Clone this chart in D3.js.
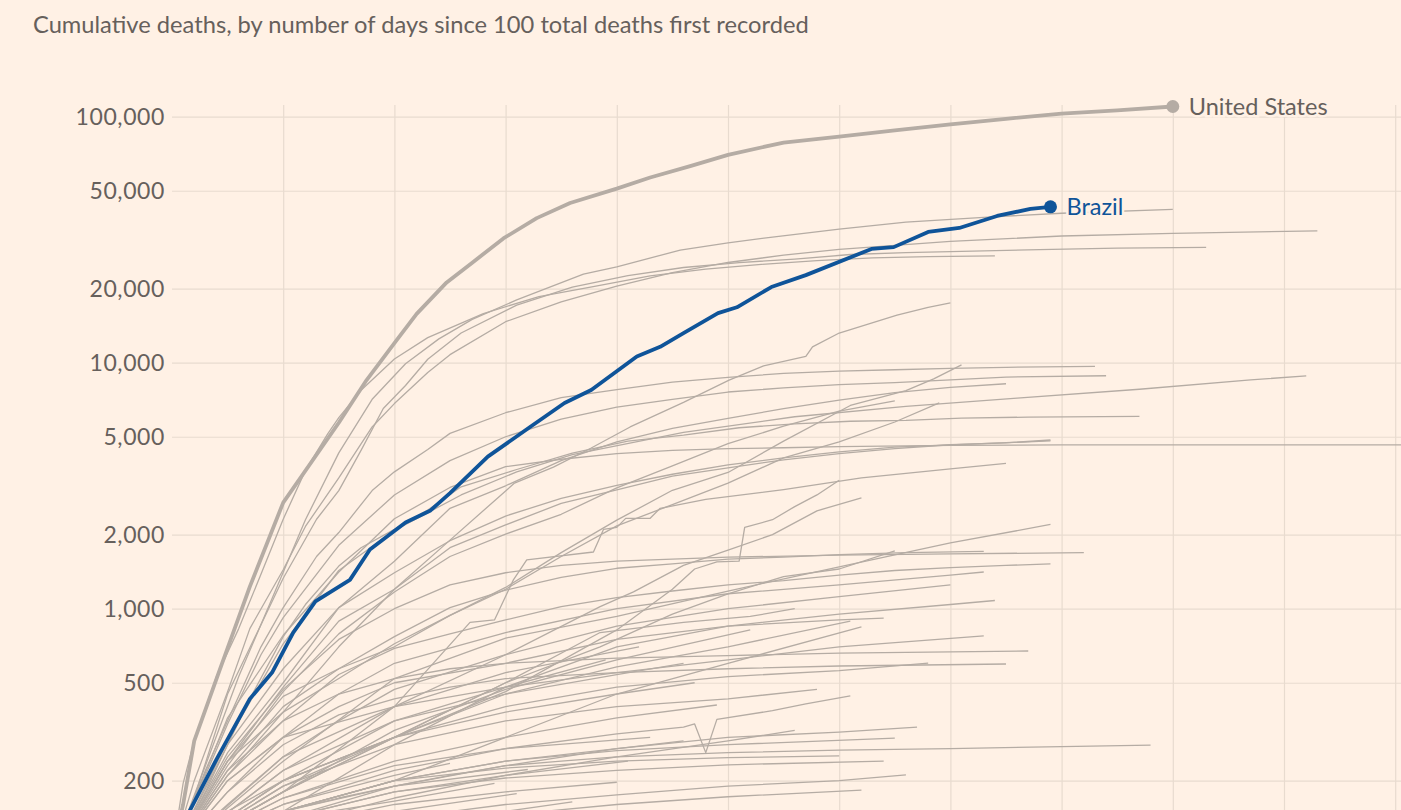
<!DOCTYPE html>
<html><head><meta charset="utf-8">
<script src="https://cdn.jsdelivr.net/npm/d3@7"></script>
<style>
html,body{margin:0;padding:0;background:#fff1e5;overflow:hidden;}
svg{display:block;font-family:Lato,"Noto Sans",sans-serif;}
</style></head><body>
<svg id="chart" width="1401" height="810"></svg>
<script>
const chartTitle = "Cumulative deaths, by number of days since 100 total deaths first recorded";
const yTickValues = [200, 500, 1000, 2000, 5000, 10000, 20000, 50000, 100000];
const xTickDays = [10, 20, 30, 40, 50, 60, 70, 80, 90, 100, 110];

const usDays   = [0, 1, 2, 4.3, 7, 10, 15, 17.5, 20, 22, 24.7, 27, 29.8, 32.8, 35.8, 40, 43, 46.6, 50, 55, 60, 65, 70, 75, 80, 85, 90];
const usDeaths = [100, 160, 290, 565, 1230, 2700, 5700, 8500, 12000, 15800, 21200, 25500, 32000, 38700, 44600, 51000, 56600, 63000, 70000, 78500, 83000, 88000, 93000, 98000, 103000, 106000, 110000];

const brazilDays   = [0, 1.6, 4, 7, 9, 10.9, 12.9, 16, 17.8, 21, 23.2, 25, 28.4, 32.2, 35.3, 37.7, 41.8, 43.9, 46, 49.1, 50.8, 53.9, 57, 62.9, 64.9, 68, 70.8, 74.2, 77.2, 79];
const brazilDeaths = [100, 151, 244, 430, 550, 800, 1070, 1310, 1740, 2240, 2500, 2950, 4150, 5480, 6860, 7750, 10600, 11600, 13200, 15900, 16800, 20300, 22700, 29000, 29500, 34000, 35300, 39500, 42200, 43000];

// other countries: [day, cumulative deaths]
const otherSeries = [
  [[0,100],[3,230],[6,530],[9,1100],[12,2300],[15,4300],[18,7100],[21,9900],[24,12500],[27,15000],[31,18000],[37,22900],[40,24500],[45.7,28700],[50,30700],[54,32400],[60,34900],[66,37300],[73,39000],[80,40500],[90,42000]],
  [[0,100],[2,200],[5,460],[7,830],[10,1440],[12,2160],[15,3400],[18,5480],[20,6820],[23,9130],[25,10780],[30,14680],[35,17670],[40,20470],[45,23230],[50,25550],[55,27360],[60,28880],[70,31110],[80,32740],[90,33530],[103,34370]],
  [[0,100],[2,170],[5,450],[8,860],[10,1330],[13,2310],[15,3020],[17,4400],[19,6510],[21,8080],[23,10330],[26,13200],[31,17150],[36,20270],[41,22610],[46,24380],[51,25530],[56,26380],[61,27530],[66,28020],[71,28370],[78,28810],[85,29210],[93,29440]],
  [[0,100],[1,195],[2,290],[4,530],[6,830],[8,1380],[10,2310],[12,3650],[14,5140],[15,5980],[17,7720],[20,10350],[23,12640],[28,15840],[33,18580],[38,20450],[43,22520],[48,24000],[53,25100],[58,26000],[63,26700],[68,27000],[74,27200]],
  [[0,100],[3,220],[5,350],[8,700],[10,1010],[13,1630],[15,2040],[18,3020],[20,3600],[23,4440],[25,5160],[30,6260],[35,7210],[40,7770],[45,8340],[50,8710],[55,9050],[60,9240],[65,9360],[70,9490],[75,9580],[83,9660]],
  [[0,100],[3,210],[5,340],[8,650],[10,920],[15,1810],[20,2900],[25,4000],[30,5000],[35,5900],[40,6600],[45,7100],[50,7600],[55,7900],[60,8150],[65,8300],[70,8520],[75,8740],[84,8850]],
  [[0,100],[3,180],[5,280],[7,430],[10,770],[12,1040],[15,1490],[17,1770],[20,2100],[23,2520],[26,3130],[31,3680],[36,4290],[41,4800],[46,5080],[51,5440],[56,5640],[61,5780],[66,5830],[71,5950],[77,6010],[87,6050]],
  [[0,100],[5,290],[10,720],[15,1430],[20,2080],[26,2900],[31,3600],[36,4230],[46,5210],[56,6030],[66,6640],[76,7180],[87,7800],[97,8510],[102,8840]],
  [[0,100],[5,260],[10,500],[15,1010],[20,1560],[25,2560],[30,3160],[35,4000],[40,4770],[45,5410],[50,5940],[55,6500],[60,7050],[65,7550],[70,7940],[75,8210]],
  [[0,100],[5,240],[10,380],[15,520],[20,720],[25,940],[30,1220],[35,1690],[40,2290],[45,3030],[50,3580],[55,4800],[61,6700],[66,7700],[68.5,8600],[71,9800]],
  [[0,100],[5,230],[10,460],[15,790],[20,1170],[25,1630],[30,2010],[35,2420],[40,3100],[45,3810],[50,4690],[55,5520],[60,6360],[65,7000]],
  [[0,100],[5,220],[10,400],[15,570],[20,700],[25,940],[30,1200],[35,1630],[40,2170],[45,2650],[50,3240],[55,4100],[60,4770],[65,5740],[69,6860]],
  [[0,100],[5,210],[10,380],[15,700],[20,1200],[25,1900],[30.8,3240],[34.3,3760],[37.7,4500],[41.2,5480],[46,6900],[50.1,8500],[53.2,9700],[57,10600],[57.6,11600],[60,13200],[65.2,15600],[68,16800],[70,17500]],
  [[0,100],[5,240],[10,480],[15,890],[20,1200],[25,1770],[30,2190],[35,2680],[40,3040],[45,3460],[50,3740],[55,4030],[60,4270],[65,4470],[70,4640],[75,4720],[79,4850]],
  [[0,100],[5,280],[10,570],[15,1010],[20,1400],[25,1890],[30,2380],[35,2810],[40,3170],[45,3520],[50,3840],[55,4100],[60,4340],[65,4540],[70,4630],[75,4730],[79,4810]],
  [[0,100],[5,360],[10,780],[15,1410],[20,2320],[25,3110],[30,3780],[35,4050],[40,4270],[45,4400],[50,4470],[55,4510],[60,4560],[70,4610],[80,4630],[100,4634],[139,4634]],
  [[0,100],[10,180],[20,400],[26.8,880],[29,900],[30.7,1310],[31.9,1580],[37.9,1700],[38.8,2100],[40,2140],[40.8,2330],[43,2330],[43.9,2560],[48,2780],[55,3050],[62,3400],[70,3700],[75,3900]],
  [[0,100],[10,200],[20,300],[30,460],[40,820],[45,1200],[47,1450],[49,1550],[51,1560],[51.5,2140],[54,2300],[56,2600],[58,2900],[60,3330]],
  [[0,100],[10,220],[20,400],[30,650],[38.5,1020],[41.5,1170],[46,1500],[50,1730],[54,2000],[58,2500],[62,2820]],
  [[0,100],[10,240],[20,520],[30,760],[40,930],[50,1180],[60,1480],[70,1850],[79,2200]],
  [[0,100],[5,240],[10,440],[15,570],[20,770],[25,1010],[30,1190],[35,1340],[40,1460],[45,1520],[50,1590],[55,1620],[60,1660],[66,1690],[73,1710]],
  [[0,100],[5,250],[10,470],[15,750],[20,1000],[25,1250],[30,1400],[35,1500],[40,1560],[50,1620],[60,1650],[70,1670],[82,1690]],
  [[0,100],[5,210],[10,350],[15,540],[20,690],[25,790],[30,900],[35,1020],[40,1110],[45,1180],[50,1250],[55,1300],[60,1370],[65,1430],[70,1470],[75,1500],[79,1520]],
  [[0,100],[5,180],[10,300],[15,450],[20,600],[30,800],[40,1000],[50,1150],[60,1250],[70,1370],[73,1410]],
  [[0,100],[5,160],[10,250],[15,350],[20,470],[30,650],[40,850],[50,1000],[60,1120],[70,1250]],
  [[0,100],[5,200],[10,300],[15,400],[20,500],[30,600],[40,750],[50,850],[60,950],[70,1040],[74,1080]],
  [[0,100],[5,220],[10,350],[15,450],[20,520],[25,570],[30,600],[40,630],[50,645],[60,660],[77,673]],
  [[0,100],[5,180],[10,280],[15,370],[20,430],[25,480],[30,520],[40,550],[50,570],[60,585],[75,596]],
  [[0,100],[10,150],[20,280],[30,480],[40,700],[50,850],[60,900],[64,916]],
  [[0,100],[5,200],[10,300],[20,400],[30,480],[40,550],[50,620],[60,700],[73,775]],
  [[0,100],[10,180],[20,300],[30,450],[40,580],[50,700],[61,891]],
  [[0,100],[10,150],[20,200],[30,300],[40,450],[50,600],[62,843]],
  [[0,100],[5,150],[10,200],[20,300],[30,400],[40,480],[50,530],[60,560],[68,601]],
  [[0,100],[10,160],[20,220],[30,270],[40,310],[46,330],[47,340],[48,260],[49,355],[54,385],[57,410],[61,442]],
  [[0,100],[10,170],[20,240],[30,300],[40,360],[49,406]],
  [[0,100],[10,140],[20,190],[30,230],[40,270],[50,300],[60,315],[67,330]],
  [[0,100],[10,150],[20,200],[30,240],[40,265],[50,280],[65,298]],
  [[0,100],[5,120],[10,150],[15,170],[20,190],[25,210],[30,230],[35,240],[40,250],[50,260],[60,266],[70,270],[80,275],[88,279]],
  [[0,100],[10,150],[20,200],[30,225],[40,240],[50,248],[60,252]],
  [[0,100],[10,140],[20,180],[30,205],[40,220],[50,232],[64,240]],
  [[0,100],[10,120],[20,140],[30,160],[40,175],[50,190],[60,200],[66,211]],
  [[0,100],[10,115],[20,130],[30,145],[40,160],[50,172],[62,183]],
  [[0,100],[10,190],[20,300],[30,500],[38.5,800],[46,880],[52,930],[56,1000]],
  [[0,100],[10,180],[20,320],[30,470],[40,620],[52,820]],
  [[0,100],[10,180],[20,300],[30,500],[38.5,700],[45,950],[50,1150],[55,1350],[60,1450],[65,1720]],
  [[0,100],[10,150],[20,200],[30,240],[40,270],[46,290]],
  [[0,100],[10,130],[20,150],[31,177]],
  [[0,100],[10,140],[20,165],[29,195]],
  [[0,100],[10,120],[20,140],[30,150],[36,164]],
  [[0,100],[10,160],[20,210],[25,235]],
  [[0,100],[10,150],[20,190],[32,222]],
  [[0,100],[10,130],[20,160],[30,180],[40,197]],
  [[0,100],[10,140],[20,180],[30,210],[41,240]],
  [[0,100],[10,170],[20,230],[30,270],[43,300]],
  [[0,100],[10,200],[20,300],[30,380],[40,450],[47,500]],
  [[0,100],[10,220],[20,350],[30,450],[40,540],[46,600]],
  [[0,100],[10,200],[20,350],[30,480],[39,620]],
  [[0,100],[10,250],[20,400],[30,550],[42,700]],
  [[0,100],[10,130],[20,170],[30,210],[40,250],[50,290],[56,320]],
  [[0,100],[10,190],[20,280],[30,350],[40,400],[50,430],[58,470]]
];

const svg = d3.select("#chart");
const W = 1401, H = 810;
const x = d3.scaleLinear().domain([0, 110]).range([172, 1395.2]);
const y = d3.scaleLog().domain([100, 100000]).range([854.7, 116.7]);

const textCol = "#66605c", gridCol = "#e8dbcf", lineCol = "#b5aca4", blue = "#0f5499", bg = "#fff1e5";

// title
const t = svg.append("text").attr("x", 33).attr("y", 33).attr("fill", textCol)
  .style("font-size", "20px").text(chartTitle);
const tl = t.node().getComputedTextLength();
t.style("font-size", (20 * 776 / tl).toFixed(2) + "px");

// vertical gridlines (x axis; its labels would sit below the visible area, so none are drawn)
const xAxis = svg.append("g").attr("transform", "translate(0,900)")
  .call(d3.axisBottom(x).tickValues(xTickDays).tickSize(-(900 - 105)));
xAxis.select(".domain").remove();
xAxis.selectAll("text").remove();
xAxis.selectAll("line").attr("stroke", gridCol).attr("stroke-width", 1.2);

// horizontal gridlines + labels
const yAxis = svg.append("g").attr("transform", "translate(172,0)")
  .call(d3.axisLeft(y).tickValues(yTickValues).tickFormat(d3.format(",")).tickSize(-(W - 172)).tickPadding(7));
yAxis.select(".domain").remove();
yAxis.selectAll("line").attr("stroke", gridCol).attr("stroke-width", 1.2);
yAxis.selectAll("text").attr("fill", textCol).style("font-size", "23px")
  .style("letter-spacing", "0.6px").style("font-family", "Lato, 'Noto Sans', sans-serif");

const line = d3.line().x(d => x(d[0])).y(d => y(d[1]));

svg.append("g").selectAll("path").data(otherSeries).join("path")
  .attr("d", line).attr("fill", "none").attr("stroke", lineCol).attr("stroke-width", 1.3)
  .attr("stroke-linejoin", "round");

const usData = usDays.map((d, i) => [d, usDeaths[i]]);
const brData = brazilDays.map((d, i) => [d, brazilDeaths[i]]);

svg.append("path").datum(usData).attr("d", line).attr("fill", "none")
  .attr("stroke", lineCol).attr("stroke-width", 3.8).attr("stroke-linejoin", "round");
svg.append("path").datum(brData).attr("d", line).attr("fill", "none")
  .attr("stroke", blue).attr("stroke-width", 3.8).attr("stroke-linejoin", "round");

const usEnd = usData[usData.length - 1], brEnd = brData[brData.length - 1];
svg.append("circle").attr("cx", x(usEnd[0])).attr("cy", y(usEnd[1])).attr("r", 6.5).attr("fill", lineCol);
svg.append("circle").attr("cx", x(brEnd[0])).attr("cy", y(brEnd[1])).attr("r", 6.5).attr("fill", blue);

function label(txt, d, col) {
  svg.append("text").attr("x", x(d[0]) + 16).attr("y", y(d[1])).attr("dy", "0.35em")
    .attr("fill", col).style("font-size", "23.5px")
    .attr("stroke", bg).attr("stroke-width", 5).style("paint-order", "stroke")
    .text(txt);
}
label("United States", usEnd, textCol);
label("Brazil", brEnd, blue);
</script>
</body></html>
